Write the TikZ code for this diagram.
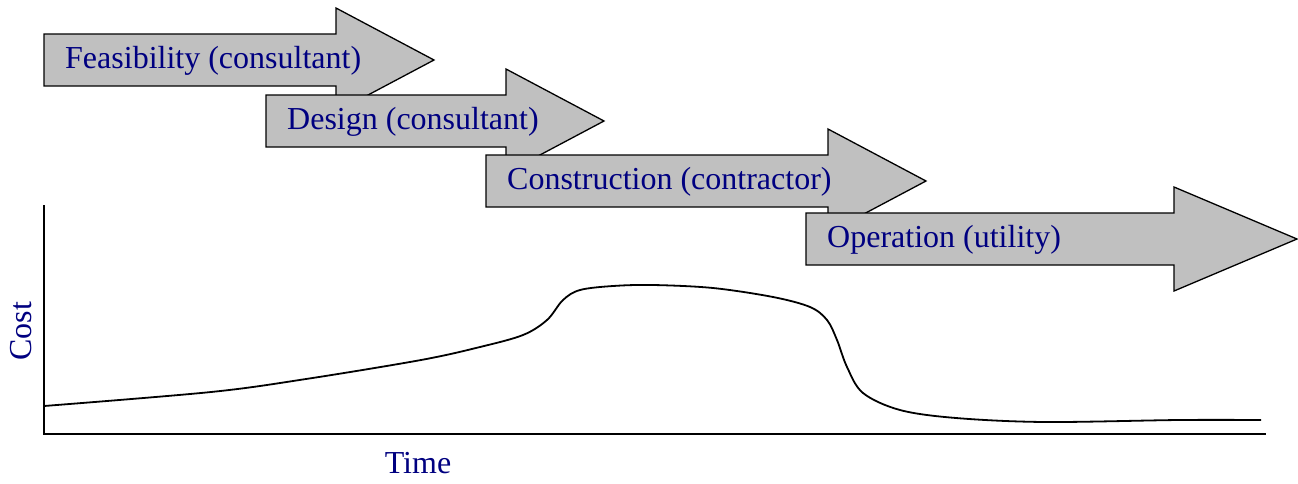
\documentclass[tikz,border=0pt]{standalone}
\usepackage{fontspec}
\setmainfont{Liberation Serif}
\definecolor{phaseblue}{RGB}{0,0,128}
\definecolor{phasegray}{RGB}{192,192,192}

\begin{document}
\begin{tikzpicture}[x=1pt, y=-1pt,
  phase/.style={draw=black, fill=phasegray, line width=1.3pt, line join=miter},
  phasetext/.style={text=phaseblue, font=\fontsize{32}{36}\selectfont, inner sep=0pt},
  axis/.style={line width=2pt},
  costline/.style={line width=1.8pt}]
  \useasboundingbox (0,0) rectangle (1298,483);

  % phases: name/left/centre/head/tip/text
  \foreach \n/\x/\y/\h/\tip/\txt in {feas/44/60/336/434/Feasibility (consultant),
      design/266/121/506/604/Design (consultant),
      constr/486/181/828/926/Construction (contractor),
      oper/806/239/1174/1297/Operation (utility)}{
    \draw[phase] (\x,\y-26) -- (\h,\y-26) -- (\h,\y-52) -- (\tip,\y)
      -- (\h,\y+52) -- (\h,\y+26) -- (\x,\y+26) -- cycle;
    \node[phasetext, anchor=base west] (\n) at (\x+21,\y+8) {\txt};
  }

  \coordinate (top) at (44,205);
  \coordinate (origin) at (44,434);
  \coordinate (right) at (1266,434);
  \draw[axis] (top) -- (origin) -- (right);
  \node[phasetext, anchor=base] (time) at (418,473) {Time};
  \node[phasetext, rotate=90, anchor=base] (cost) at (31,331) {Cost};

  \draw[costline] plot[smooth, tension=0.55] coordinates {(44,406) (211,392) (306,379)
    (421,360) (480,347) (523,335) (547,320) (563,300) (580,290) (613,286) (653,285)
    (713,288) (773,297) (810,307) (827,320) (837,340) (847,367) (863,393) (900,410)
    (956,418) (1045,422) (1179,420) (1261,420)};
\end{tikzpicture}
\end{document}
